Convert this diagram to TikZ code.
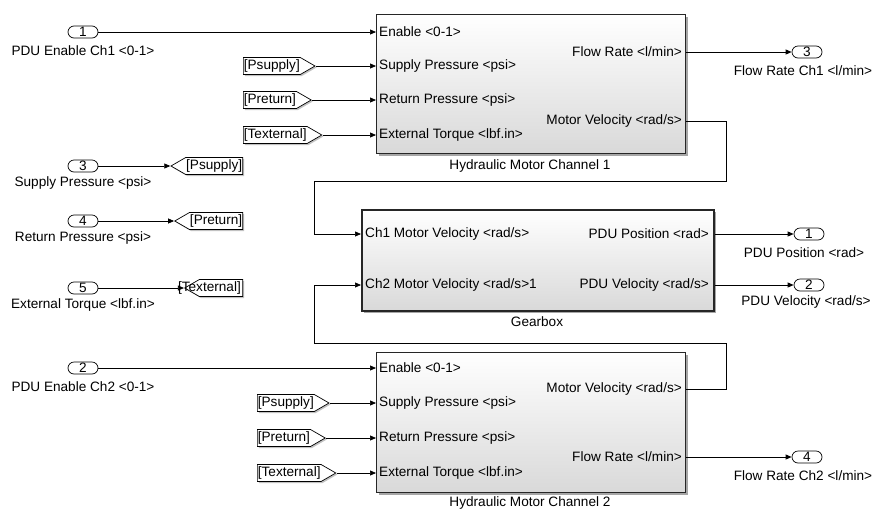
\documentclass[tikz,border=0pt]{standalone}
\usepackage{fontspec}
\setmainfont{Liberation Sans}
\usetikzlibrary{shapes.symbols,shadows,arrows.meta}
\begin{document}
\begin{tikzpicture}[x=1pt,y=-1pt,
  every node/.style={font=\fontsize{13.6}{15}\selectfont, inner sep=0pt},
  blk/.style={draw=black!85, line width=0.8pt, top color=white, bottom color=black!15,
    drop shadow={shadow xshift=2.5pt,shadow yshift=-2.5pt,fill=black!50,opacity=0.7}, anchor=north west},
  gbox/.style={blk, line width=1.8pt},
  port/.style={draw, line width=0.7pt, rounded corners=6pt, minimum width=30pt, minimum height=12pt, fill=white},
  wire/.style={line width=0.7pt},
  arr/.style={wire, -{Triangle[length=6pt,width=5pt]}},
  fromtag/.style={draw, line width=0.7pt, fill=white, shape=signal, signal to=east, signal pointer angle=60,
    inner xsep=0.5pt, minimum height=17pt, anchor=west, drop shadow={shadow xshift=1.5pt,shadow yshift=-1.5pt,fill=black!40,opacity=0.6}},
  gototag/.style={draw, line width=0.7pt, fill=white, shape=signal, signal to=west, signal pointer angle=60,
    inner xsep=0.5pt, minimum height=17pt, anchor=east, drop shadow={shadow xshift=1.5pt,shadow yshift=-1.5pt,fill=black!40,opacity=0.6}}
]
\useasboundingbox (0,0) rectangle (876,512);

% ---------- blocks ----------
\node[blk, minimum width=309pt, minimum height=139pt] (hm1) at (376,14) {};
\node[blk, minimum width=309pt, minimum height=140pt] (hm2) at (376,352) {};
\node[gbox, minimum width=352pt, minimum height=101pt] (gb) at (361,209) {};

\node (hm1lab) at (530,166) {Hydraulic Motor Channel 1};
\node (hm2lab) at (530,503) {Hydraulic Motor Channel 2};
\node (gblab) at (537,322) {Gearbox};

% block 1 port texts
\node[anchor=west] (t11) at (379,32) {Enable <0-1>};
\node[anchor=west] (t12) at (379,66) {Supply Pressure <psi>};
\node[anchor=west] (t13) at (379,100) {Return Pressure <psi>};
\node[anchor=west] (t14) at (379,135) {External Torque <lbf.in>};
\node[anchor=east] (t15) at (682,52) {Flow Rate <l/min>};
\node[anchor=east] (t16) at (682,121) {Motor Velocity <rad/s>};
% block 2 port texts
\node[anchor=west] (t21) at (379,368) {Enable <0-1>};
\node[anchor=west] (t22) at (379,403) {Supply Pressure <psi>};
\node[anchor=west] (t23) at (379,438) {Return Pressure <psi>};
\node[anchor=west] (t24) at (379,473) {External Torque <lbf.in>};
\node[anchor=east] (t25) at (682,389) {Motor Velocity <rad/s>};
\node[anchor=east] (t26) at (682,457) {Flow Rate <l/min>};
% gearbox port texts
\node[anchor=west] (t31) at (365,234) {Ch1 Motor Velocity <rad/s>};
\node[anchor=west] (t32) at (365,285) {Ch2 Motor Velocity <rad/s>1};
\node[anchor=east] (t33) at (709,234) {PDU Position <rad>};
\node[anchor=east] (t34) at (709,285) {PDU Velocity <rad/s>};

% port coordinates
\coordinate (hm1i1) at (hm1.west |- 0,32);
\coordinate (hm1i2) at (hm1.west |- 0,66);
\coordinate (hm1i3) at (hm1.west |- 0,100);
\coordinate (hm1i4) at (hm1.west |- 0,135);
\coordinate (hm1o1) at (hm1.east |- 0,52);
\coordinate (hm1o2) at (hm1.east |- 0,121);
\coordinate (hm2i1) at (hm2.west |- 0,368);
\coordinate (hm2i2) at (hm2.west |- 0,403);
\coordinate (hm2i3) at (hm2.west |- 0,438);
\coordinate (hm2i4) at (hm2.west |- 0,473);
\coordinate (hm2o1) at (hm2.east |- 0,389);
\coordinate (hm2o2) at (hm2.east |- 0,457);
\coordinate (gbi1) at (gb.west |- 0,234);
\coordinate (gbi2) at (gb.west |- 0,285);
\coordinate (gbo1) at (gb.east |- 0,234);
\coordinate (gbo2) at (gb.east |- 0,285);

% ---------- inports ----------
\node[port] (in1) at (83,32) {1};
\node (in1lab) at (83,51) {PDU Enable Ch1 <0-1>};
\node[port] (in3) at (83,166) {3};
\node (in3lab) at (83,183) {Supply Pressure <psi>};
\node[port] (in4) at (83,221) {4};
\node (in4lab) at (83,238) {Return Pressure <psi>};
\node[port] (in5) at (83,288) {5};
\node (in5lab) at (83,305) {External Torque <lbf.in>};
\node[port] (in2) at (83,368) {2};
\node (in2lab) at (83,387) {PDU Enable Ch2 <0-1>};

% ---------- goto tags ----------
\node[gototag] (g1) at (243,166) {[Psupply]};
\node[gototag] (g2) at (243,221) {[Preturn]};
\node[gototag, minimum width=58pt] (g3) at (243,288) {};
\node[anchor=east] (g3t) at (241,288) {[Texternal]};

% ---------- from tags ----------
\node[fromtag] (f11) at (243,66) {[Psupply]};
\node[fromtag] (f12) at (243,100) {[Preturn]};
\node[fromtag] (f13) at (243,135) {[Texternal]};
\node[fromtag] (f21) at (257,403) {[Psupply]};
\node[fromtag] (f22) at (257,438) {[Preturn]};
\node[fromtag] (f23) at (257,473) {[Texternal]};

% ---------- outports ----------
\node[port] (o3) at (807,52) {3};
\node (o3lab) at (803,71) {Flow Rate Ch1 <l/min>};
\node[port] (o1) at (809,234) {1};
\node (o1lab) at (804,253) {PDU Position <rad>};
\node[port] (o2) at (809,285) {2};
\node (o2lab) at (806,302) {PDU Velocity <rad/s>};
\node[port] (o4) at (807,457) {4};
\node (o4lab) at (803,476) {Flow Rate Ch2 <l/min>};

% ---------- wires ----------
\draw[arr] (in1.east) -- (hm1i1);
\draw[arr] (in2.east) -- (hm2i1);
\draw[arr] (in3.east) -- (g1.west);
\draw[arr] (in4.east) -- (g2.west);
\draw[arr] (in5.east) -- (g3.west);

\draw[arr] (f11.east) -- (hm1i2);
\draw[arr] (f12.east) -- (hm1i3);
\draw[arr] (f13.east) -- (hm1i4);
\draw[arr] (f21.east) -- (hm2i2);
\draw[arr] (f22.east) -- (hm2i3);
\draw[arr] (f23.east) -- (hm2i4);

\draw[arr] (hm1o1) -- (o3.west);
\draw[arr] (hm2o2) -- (o4.west);
\draw[arr] (gbo1) -- (o1.west);
\draw[arr] (gbo2) -- (o2.west);

\draw[arr] (hm1o2) -- (726,121) -- (726,181) -- (314,181) -- (314,234) -- (gbi1);
\draw[arr] (hm2o1) -- (726,389) -- (726,343) -- (314,343) -- (314,285) -- (gbi2);
\end{tikzpicture}
\end{document}
